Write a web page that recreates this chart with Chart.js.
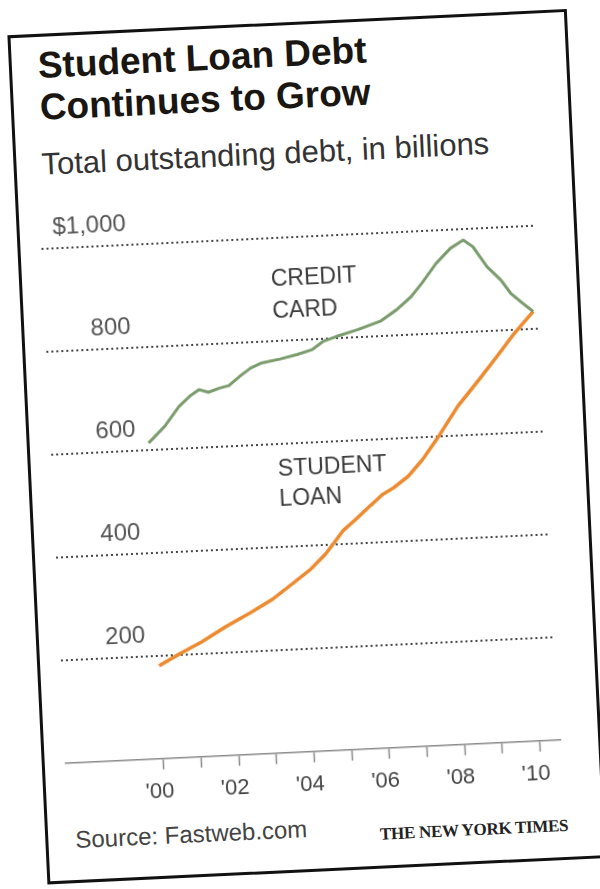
<!DOCTYPE html>
<html>
<head>
<meta charset="utf-8">
<script src="https://cdn.jsdelivr.net/npm/chart.js@4.4.1/dist/chart.umd.min.js"></script>
<style>
  html, body { margin: 0; padding: 0; width: 600px; height: 889px; overflow: hidden; background: #fff; }
  .card {
    position: absolute; left: 27px; top: 22px; width: 560px; height: 850px;
    box-sizing: border-box; border: 3px solid #111; background: #fff;
    transform-origin: 273px 422.5px; transform: rotate(-2.7deg);
  }
  .t { position: absolute; white-space: nowrap; }
  .title { left: 26px; font: bold 37px/37px "Liberation Sans", Arial, sans-serif; color: #1a1612; }
  .sub { left: 25px; top: 112px; font: 31px/31px "Liberation Sans", Arial, sans-serif; color: #333; }
  .src { left: 27px; top: 792px; font: 24px/24px "Liberation Sans", Arial, sans-serif; color: #444; }
  .nyt { right: 34px; top: 804px; font: bold 17px/17px "Liberation Serif", "Times New Roman", serif; color: #222; letter-spacing: -0.3px; }
  canvas { position: absolute; left: -3px; top: 170px; }
</style>
</head>
<body>
<div class="card">
  <div class="t title" style="top:10px">Student Loan Debt</div>
  <div class="t title" style="top:52px">Continues to Grow</div>
  <div class="t sub">Total outstanding debt, in billions</div>
  <canvas id="c" width="554" height="620"></canvas>
  <div class="t src">Source: Fastweb.com</div>
  <div class="t nyt">THE NEW YORK TIMES</div>
</div>
<script>
// Credit card debt (billions)
const creditYears  = [2000.0, 2000.45, 2000.85, 2001.15, 2001.4, 2001.65, 2001.95, 2002.2, 2002.5, 2002.8, 2003.1, 2003.6, 2004.05, 2004.45, 2004.75, 2005.1, 2005.7, 2006.3, 2006.75, 2007.15, 2007.45, 2007.85, 2008.25, 2008.6, 2008.85, 2009.2, 2009.55, 2009.8, 2010.1, 2010.37];
const creditValues = [613, 644, 681, 700, 712, 706, 713, 717, 734, 749, 758, 764, 771, 779, 794, 802, 814, 828, 849, 873, 898, 935, 963, 978, 964, 924, 897, 870, 850, 833];
// Student loan debt (billions)
const loanYears  = [2000.0, 2000.55, 2001.15, 2001.8, 2002.5, 2003.1, 2003.7, 2004.15, 2004.55, 2004.8, 2005.05, 2005.45, 2005.8, 2006.15, 2006.45, 2006.85, 2007.25, 2007.65, 2008.25, 2008.85, 2009.35, 2009.85, 2010.37];
const loanValues = [180, 201, 222, 249, 275, 299, 330, 354, 381, 403, 425, 449, 471, 492, 504, 525, 556, 594, 656, 706, 749, 793, 833];
// Axis ticks
const xTickYears = [2000, 2001, 2002, 2003, 2004, 2005, 2006, 2007, 2008, 2009, 2010];
const xTickLabels = ["'00", "", "'02", "", "'04", "", "'06", "", "'08", "", "'10"];
const yTickValues = [0, 200, 400, 600, 800, 1000];
const yTickLabels = ["", "200", "400", "600", "800", "$1,000"];
// Direct labels
const seriesLabels = [
  { lines: ["CREDIT", "CARD"], year: 2003.45, values: [918, 856] },
  { lines: ["STUDENT", "LOAN"], year: 2003.4, values: [550, 492] }
];

const FONT = '"Liberation Sans", Arial, sans-serif';
const toPoints = (xs, ys) => xs.map((x, i) => ({ x: x, y: ys[i] }));

const labelPlugin = {
  id: 'seriesLabels',
  afterDatasetsDraw(chart) {
    const { ctx, scales: { x, y } } = chart;
    ctx.save();
    ctx.font = '23px ' + FONT;
    ctx.fillStyle = '#3a3a3a';
    ctx.textAlign = 'left';
    ctx.textBaseline = 'middle';
    seriesLabels.forEach(l => {
      l.lines.forEach((txt, i) => ctx.fillText(txt, x.getPixelForValue(l.year), y.getPixelForValue(l.values[i])));
    });
    ctx.restore();
  }
};

new Chart(document.getElementById('c'), {
  type: 'line',
  data: {
    datasets: [
      { label: 'Credit card', data: toPoints(creditYears, creditValues), borderColor: '#7a9b6c', borderWidth: 3, pointRadius: 0, tension: 0, borderJoinStyle: 'round' },
      { label: 'Student loan', data: toPoints(loanYears, loanValues), borderColor: '#ec8a30', borderWidth: 3.5, pointRadius: 0, tension: 0, borderJoinStyle: 'round' }
    ]
  },
  options: {
    responsive: false,
    animation: false,
    layout: { padding: { left: 0, right: 35, top: 41.6, bottom: 8 } },
    plugins: { legend: { display: false }, tooltip: { enabled: false }, title: { display: false } },
    scales: {
      x: {
        type: 'linear',
        min: 1997.4, max: 2010.55,
        afterBuildTicks: (s) => { s.ticks = xTickYears.map(v => ({ value: v })); },
        grid: { drawOnChartArea: false, drawTicks: true, tickLength: 11, tickColor: '#8a8a8a', tickWidth: 1.5 },
        border: { display: true, color: '#8a8a8a', width: 1.5 },
        ticks: {
          autoSkip: false, maxRotation: 0, padding: 9, labelOffset: -5,
          font: { family: FONT, size: 22 },
          color: '#444',
          callback: (v) => { const i = xTickYears.indexOf(v); return i >= 0 ? xTickLabels[i] : ''; }
        }
      },
      y: {
        min: 0, max: 1000,
        afterBuildTicks: (s) => { s.ticks = yTickValues.map(v => ({ value: v })); },
        grid: { drawTicks: false, lineWidth: 2, color: (c) => (c.tick && c.tick.value === 0) ? 'rgba(0,0,0,0)' : '#444' },
        border: { display: false, dash: [2, 3] },
        ticks: {
          mirror: true, crossAlign: 'far', padding: 12, labelOffset: -20,
          font: { family: FONT, size: 24 },
          color: '#555',
          callback: (v) => { const i = yTickValues.indexOf(v); return i >= 0 ? yTickLabels[i] : ''; }
        }
      }
    }
  },
  plugins: [labelPlugin]
});
</script>
</body>
</html>
